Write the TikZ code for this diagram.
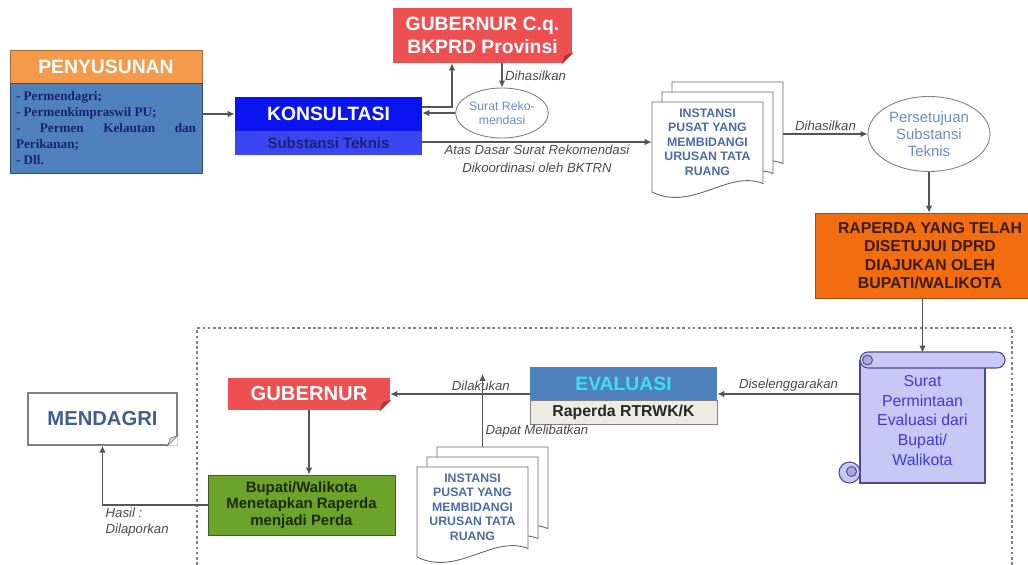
\documentclass[tikz,border=0pt]{standalone}
\usepackage{fontspec}
\setmainfont{Liberation Sans}
\newfontfamily\timesfont{Liberation Serif}
\usepackage{tikz}
\usetikzlibrary{calc, shapes.geometric}
\usetikzlibrary{arrows.meta}
\tikzset{>={Latex[width=1.3mm,length=1.4mm]}}

\definecolor{penyorange}{HTML}{F59A4A}
\definecolor{penyblue}{HTML}{4F81BD}
\definecolor{konsblue}{HTML}{0A14F0}
\definecolor{konslight}{HTML}{3C46F0}
\definecolor{konstext}{HTML}{1A2277}
\definecolor{gubred}{HTML}{EE5052}
\definecolor{gubdark}{HTML}{B53436}
\definecolor{ellipsetext}{HTML}{6D8CC4}
\definecolor{docblue}{HTML}{4B6CA8}
\definecolor{raporange}{HTML}{F26C10}
\definecolor{raptext}{HTML}{3A1E0C}
\definecolor{scrollfill}{HTML}{C9C7F6}
\definecolor{scrolldark}{HTML}{A9A6E0}
\definecolor{scrollline}{HTML}{4A4A8A}
\definecolor{scrolltext}{HTML}{3B3BD6}
\definecolor{evalblue}{HTML}{4F81BD}
\definecolor{evalcyan}{HTML}{3CE0F0}
\definecolor{evalbeige}{HTML}{EEECE1}
\definecolor{perdagreen}{HTML}{6BA32B}
\definecolor{perdatext}{HTML}{1E2A08}
\definecolor{mendtext}{HTML}{3F5F90}
\definecolor{linegray}{HTML}{555555}
\definecolor{labelgray}{HTML}{4A4A4A}

\tikzset{
  flow/.style={->, draw=linegray, line width=0.6pt},
  lbl/.style={font=\fontsize{7.5}{9}\selectfont\itshape, text=labelgray, inner sep=1.5pt},
  bigbox/.style={inner sep=0pt, font=\fontsize{11}{13}\selectfont\bfseries},
  subbox/.style={inner sep=0pt, font=\fontsize{8.5}{10}\selectfont\bfseries},
  bubble/.style={ellipse, draw=gray, fill=white, line width=0.5pt, text=ellipsetext, inner sep=0pt, align=center},
  docpage/.style={draw=gray!80!black, fill=white, line width=0.5pt},
  doctext/.style={font=\fontsize{7}{8.3}\selectfont\bfseries, text=docblue, align=center, minimum width=2.22cm, minimum height=1.6cm, inner sep=0pt},
  scrollpart/.style={fill=scrollfill, draw=scrollline, line width=0.6pt},
}

% three stacked sheets with a wavy lower edge
\newcommand{\docstack}[1]{%
  \foreach \d in {0.4,0.2,0}
    \draw[docpage, shift={(#1)}, xshift=\d cm, yshift=\d cm]
      (-1.11,0.8) -- (1.11,0.8) -- (1.11,-0.83)
      .. controls (0.4,-0.55) and (-0.3,-1.4) .. (-1.11,-1.0) -- cycle;}

% folded lower right corner of a box
\newcommand{\foldcorner}[3]{%
  \fill[white] (#1.south east) -- ++(-0.2,0) -- ++(0.2,0.2) -- cycle;
  \filldraw[fill=#2, draw=#3, line width=0.4pt] ($(#1.south east)+(-0.2,0)$) -- ($(#1.south east)+(0,0.2)$) -- ($(#1.south east)+(-0.15,0.15)$) -- cycle;}

\begin{document}
\begin{tikzpicture}
    \useasboundingbox (0,0) rectangle (20.56,-11.3);

    \draw[gray, dash pattern=on 1.5pt off 1.5pt, line width=0.6pt] (3.94,-11.3) -- (3.94,-6.56) -- (20.24,-6.56) -- (20.24,-11.3);

    \node[bigbox, fill=penyorange, draw=penyorange!70!black, text=white, minimum width=3.84cm, minimum height=0.66cm] (PENY) at (2.12,-1.33) {PENYUSUNAN};
    \node[fill=penyblue, draw=penyblue!60!black, minimum width=3.84cm, minimum height=1.8cm, text width=3.6cm, align=justify, inner sep=0pt, font=\timesfont\bfseries\fontsize{7.5}{9}\selectfont, text=konstext] (PENY_b) at (2.12,-2.56) {- Permendagri;\\ - Permenkimpraswil PU;\\ - Permen Kelautan dan Perikanan;\\ - Dll.};

    \node[bigbox, fill=konsblue, text=white, minimum width=3.74cm, minimum height=0.68cm] (KONS) at (6.57,-2.28) {KONSULTASI};
    \node[subbox, fill=konslight, text=konstext, minimum width=3.74cm, minimum height=0.48cm] (KONS_b) at (6.57,-2.86) {Substansi Teknis};

    \node[bigbox, fill=gubred, text=white, minimum width=3.58cm, minimum height=1.1cm, align=center] (GUB1) at (9.65,-0.71) {GUBERNUR C.q.\\BKPRD Provinsi};
    \foldcorner{GUB1}{gubdark}{gubdark}

    \node[bubble, minimum width=1.68cm, minimum height=1.0cm, font=\fontsize{7}{8}\selectfont] (REK) at (10.04,-2.26) {Surat Reko-\\mendasi};

    \docstack{14.15,-2.84}
    \node[doctext] (DOC1) at (14.15,-2.84) {INSTANSI\\PUSAT YANG\\MEMBIDANGI\\URUSAN TATA\\RUANG};

    \node[bubble, minimum width=2.44cm, minimum height=1.5cm, font=\fontsize{8.5}{9.5}\selectfont] (SETUJU) at (18.58,-2.68) {Persetujuan\\Substansi\\Teknis};

    \node[fill=raporange, draw=raporange!70!black, minimum width=4.6cm, minimum height=1.7cm, align=center, inner sep=0pt, font=\fontsize{9}{10.5}\selectfont\bfseries, text=raptext] (RAPERDA) at (18.6,-5.11) {RAPERDA YANG TELAH\\DISETUJUI DPRD\\DIAJUKAN OLEH\\BUPATI/WALIKOTA};

    \begin{scope}[shift={(18.45,-8.41)}]
      \filldraw[scrollpart] (-1.25,1.2) rectangle (1.25,-1.25);
      \filldraw[scrollpart, rounded corners=0.16cm] (-1.25,1.37) rectangle (1.65,1.05);
      \filldraw[fill=scrolldark, draw=scrollline, line width=0.5pt] (-1.1,1.21) circle (0.1);
      \filldraw[scrollpart] (-1.46,-1.04) circle (0.21);
      \filldraw[fill=scrolldark, draw=scrollline, line width=0.5pt] (-1.42,-1.02) circle (0.1);
    \end{scope}
    \node[font=\fontsize{9}{11.3}\selectfont, text=scrolltext, align=center, minimum width=2.5cm, minimum height=2.7cm, inner sep=0pt] (SURAT) at (18.45,-8.41) {Surat\\Permintaan\\Evaluasi dari\\Bupati/\\Walikota};

    \node[bigbox, fill=evalblue, text=evalcyan, minimum width=3.74cm, minimum height=0.66cm] (EVAL) at (12.47,-7.67) {EVALUASI};
    \node[subbox, fill=evalbeige, draw=gray, text=black!85, minimum width=3.74cm, minimum height=0.48cm, font=\fontsize{9}{10}\selectfont\bfseries] (EVAL_b) at (12.47,-8.24) {Raperda RTRWK/K};

    \node[bigbox, fill=gubred, text=white, minimum width=3.24cm, minimum height=0.64cm, font=\fontsize{11.5}{13}\selectfont\bfseries] (GUB2) at (6.18,-7.88) {GUBERNUR};
    \foldcorner{GUB2}{gubdark}{gubdark}

    \docstack{9.45,-10.14}
    \node[doctext] (DOC2) at (9.45,-10.14) {INSTANSI\\PUSAT YANG\\MEMBIDANGI\\URUSAN TATA\\RUANG};

    \node[fill=perdagreen, draw=perdagreen!60!black, minimum width=3.74cm, minimum height=1.2cm, align=center, inner sep=0pt, font=\fontsize{8.5}{9.5}\selectfont\bfseries, text=perdatext] (PERDA) at (6.03,-10.1) {Bupati/Walikota\\Menetapkan Raperda\\menjadi Perda};

    \node[draw=gray, fill=white, line width=0.8pt, minimum width=2.98cm, minimum height=1.04cm, font=\fontsize{11.5}{13}\selectfont\bfseries, text=mendtext] (MENDAGRI) at (2.05,-8.38) {MENDAGRI};
    \foldcorner{MENDAGRI}{gray!25}{gray}

    \draw[flow] (KONS.west -| PENY_b.east) -- (KONS.west);
    \draw[flow] ([yshift=0.14cm]KONS.east) -| ([xshift=-0.61cm]GUB1.south);
    \draw[flow] (GUB1.south -| REK.north) -- node[lbl, right] {Dihasilkan} (REK.north);
    \draw[flow] (REK.west) -- (REK.west -| KONS.east);
    \draw[flow] (KONS_b.east |- DOC1.west) -- node[lbl, below, align=center] {Atas Dasar Surat Rekomendasi\\[1pt]Dikoordinasi oleh BKTRN} (DOC1.west);

    \draw[flow] ([xshift=0.4cm]DOC1.east |- SETUJU.west) -- node[lbl, above] {Dihasilkan} (SETUJU.west);
    \draw[flow] (SETUJU.south) -- (SETUJU.south |- RAPERDA.north);
    \draw[flow] (RAPERDA.south -| SURAT.north) -- (SURAT.north);

    \draw[flow] (SURAT.west |- GUB2.east) -- node[lbl, above] {Diselenggarakan} (EVAL.east |- GUB2.east);
    \draw[flow] (EVAL.west |- GUB2.east) -- node[lbl, above, pos=0.35] {Dilakukan} (GUB2.east);
    \draw[flow] ([shift={(0.2,0.4)}]DOC2.north) -- node[lbl, right, pos=0.22] {Dapat Melibatkan} ([shift={(0.2,0.4)}]DOC2.north |- GUB2.east);

    \draw[flow] (GUB2.south) -- (GUB2.south |- PERDA.north);
    \draw[flow] (PERDA.west) -| node[lbl, pos=0.5, anchor=north west, align=left] {Hasil :\\Dilaporkan} (MENDAGRI.south);
\end{tikzpicture}
\end{document}
